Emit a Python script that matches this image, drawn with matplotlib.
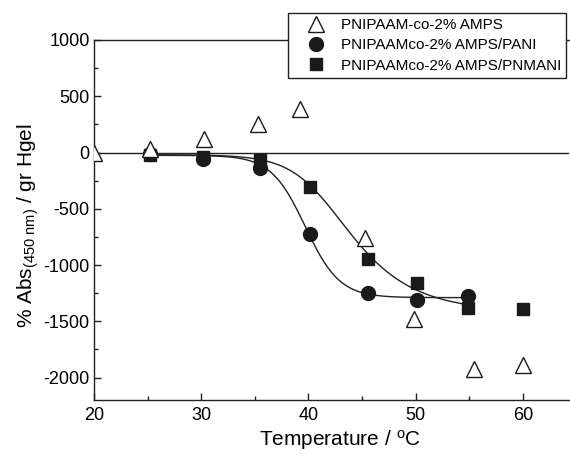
import numpy as np
import matplotlib
matplotlib.use("Agg")
import matplotlib.pyplot as plt
from matplotlib.ticker import MultipleLocator

plt.rcParams['font.family'] = ['Liberation Sans', 'DejaVu Sans']
plt.rcParams['mathtext.fontset'] = 'custom'
plt.rcParams['mathtext.rm'] = 'Liberation Sans'
plt.rcParams['mathtext.it'] = 'Liberation Sans:italic'
plt.rcParams['axes.unicode_minus'] = False

# ---- data ----
labels = ["PNIPAAM-co-2% AMPS", "PNIPAAMco-2% AMPS/PANI", "PNIPAAMco-2% AMPS/PNMANI"]

tri_x = [20.0, 25.2, 30.3, 35.3, 39.2, 45.3, 49.8, 55.4, 60.0]
tri_y = [0, 35, 124, 253, 390, -758, -1483, -1927, -1892]

circ_x = [25.2, 30.2, 35.5, 40.1, 45.6, 50.1, 54.9]
circ_y = [-15, -60, -140, -728, -1248, -1314, -1276]

sq_x = [25.2, 30.2, 35.5, 40.15, 45.6, 50.15, 54.9, 60.0]
sq_y = [-25, -40, -70, -308, -950, -1157, -1385, -1395]

# sigmoidal fit parameters (A1, A2, x0, dx, s)
circ_fit = (-25, -1290, 39.7, 1.6, 1.0)
sq_fit = (-20, -1420, 41.5, 2.2, 0.5)
fit_range = (25.2, 54.9)


def richards(x, a1, a2, x0, dx, s):
    return a2 + (a1 - a2) * (1 + np.exp((x - x0) / dx)) ** (-s)


fig = plt.figure(figsize=(5.70, 4.54), dpi=100)
ax = fig.add_axes([94 / 570, 54 / 454, 475 / 570, 360 / 454])

ax.axhline(0, color='#222222', lw=1.0, zorder=1)

xf = np.linspace(fit_range[0], fit_range[1], 300)
ax.plot(xf, richards(xf, *circ_fit), color='#222222', lw=1.0, zorder=2)
ax.plot(xf, richards(xf, *sq_fit), color='#222222', lw=1.0, zorder=2)

ax.plot(sq_x, sq_y, ls='none', marker='s', ms=9, color='#1a1a1a', zorder=3,
        label=labels[2])
ax.plot(circ_x, circ_y, ls='none', marker='o', ms=10, color='#1a1a1a', zorder=4,
        label=labels[1])
ax.plot(tri_x, tri_y, ls='none', marker='^', ms=11.5, mfc='white', mec='#1a1a1a',
        mew=1.0, zorder=5, label=labels[0])

ax.set_xlim(20, 64.3)
ax.set_ylim(-2200, 1000)
ax.xaxis.set_major_locator(MultipleLocator(10))
ax.xaxis.set_minor_locator(MultipleLocator(5))
ax.yaxis.set_major_locator(MultipleLocator(500))
ax.yaxis.set_minor_locator(MultipleLocator(250))
ax.tick_params(which='both', direction='in', labelsize=13, width=1.0, color='#222222')
ax.tick_params(which='major', length=5)
ax.tick_params(which='minor', length=3)
ax.tick_params(axis='y', pad=3)
ax.tick_params(axis='x', pad=5)
for side in ['left', 'bottom', 'top']:
    ax.spines[side].set_linewidth(1.0)
    ax.spines[side].set_color('#222222')
ax.spines['right'].set_visible(False)

ax.set_xlabel(r'Temperature / $^{\rm o}$C', fontsize=15)
ax.xaxis.set_label_coords((340 - 94) / 475, -0.078)
ax.set_ylabel(r'% Abs$_{\rm (450\ nm)}$ / gr Hgel', fontsize=15, labelpad=2)
ax.yaxis.label.set_y(0.485)

h, l = ax.get_legend_handles_labels()
order = [2, 1, 0]
leg = ax.legend([h[i] for i in order], [l[i] for i in order],
                loc='upper right', bbox_to_anchor=(566 / 570, 1 - 13 / 454),
                bbox_transform=fig.transFigure, borderaxespad=0,
                fontsize=11, frameon=True, fancybox=False, framealpha=1,
                edgecolor='#222222', labelspacing=0.42, handletextpad=0.15,
                handlelength=3.0, borderpad=0.32)
leg.get_frame().set_linewidth(1.0)

fig.savefig('out.png', dpi=100)
